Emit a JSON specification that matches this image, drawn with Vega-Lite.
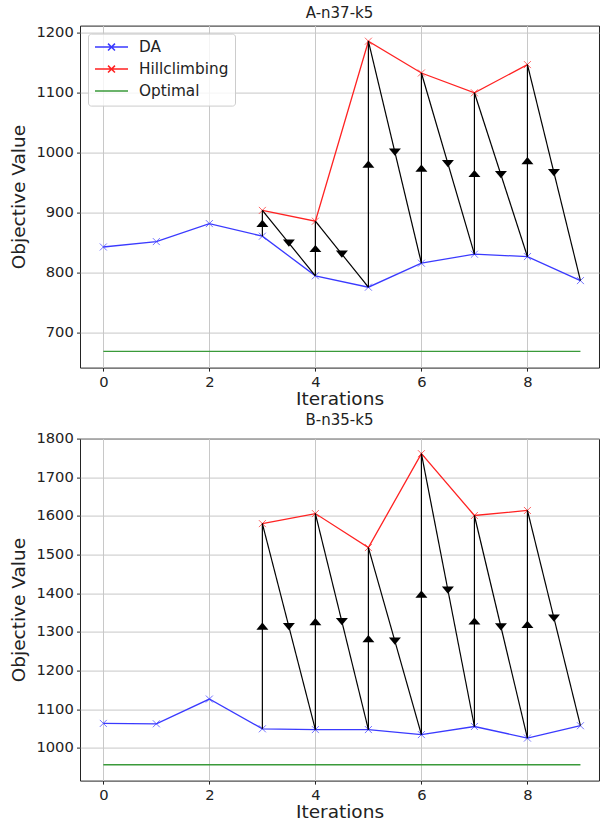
{
  "$schema": "https://vega.github.io/schema/vega-lite/v6.json",
  "background": "white",
  "padding": {"left": 9, "top": 5.6, "right": 0, "bottom": 3},
  "spacing": 71,
  "bounds": "flush",
  "datasets": {
    "s1": [
      {"series": "DA", "iter": 0, "value": 842},
      {"series": "DA", "iter": 1, "value": 851},
      {"series": "DA", "iter": 2, "value": 881},
      {"series": "DA", "iter": 3, "value": 860},
      {"series": "DA", "iter": 4, "value": 794},
      {"series": "DA", "iter": 5, "value": 775},
      {"series": "DA", "iter": 6, "value": 815},
      {"series": "DA", "iter": 7, "value": 830},
      {"series": "DA", "iter": 8, "value": 826},
      {"series": "DA", "iter": 9, "value": 786},
      {"series": "Hillclimbing", "iter": 3, "value": 903},
      {"series": "Hillclimbing", "iter": 4, "value": 885},
      {"series": "Hillclimbing", "iter": 5, "value": 1185},
      {"series": "Hillclimbing", "iter": 6, "value": 1132},
      {"series": "Hillclimbing", "iter": 7, "value": 1099},
      {"series": "Hillclimbing", "iter": 8, "value": 1146},
      {"series": "Optimal", "iter": 0, "value": 668},
      {"series": "Optimal", "iter": 9, "value": 668}
    ],
    "a1": [
      {"arrow": "u3", "dir": "up", "iter": 3, "value": 860}, {"arrow": "u3", "dir": "up", "iter": 3, "value": 903},
      {"arrow": "d3", "dir": "down", "iter": 3, "value": 903}, {"arrow": "d3", "dir": "down", "iter": 4, "value": 794},
      {"arrow": "u4", "dir": "up", "iter": 4, "value": 794}, {"arrow": "u4", "dir": "up", "iter": 4, "value": 885},
      {"arrow": "d4", "dir": "down", "iter": 4, "value": 885}, {"arrow": "d4", "dir": "down", "iter": 5, "value": 775},
      {"arrow": "u5", "dir": "up", "iter": 5, "value": 775}, {"arrow": "u5", "dir": "up", "iter": 5, "value": 1185},
      {"arrow": "d5", "dir": "down", "iter": 5, "value": 1185}, {"arrow": "d5", "dir": "down", "iter": 6, "value": 815},
      {"arrow": "u6", "dir": "up", "iter": 6, "value": 815}, {"arrow": "u6", "dir": "up", "iter": 6, "value": 1132},
      {"arrow": "d6", "dir": "down", "iter": 6, "value": 1132}, {"arrow": "d6", "dir": "down", "iter": 7, "value": 830},
      {"arrow": "u7", "dir": "up", "iter": 7, "value": 830}, {"arrow": "u7", "dir": "up", "iter": 7, "value": 1099},
      {"arrow": "d7", "dir": "down", "iter": 7, "value": 1099}, {"arrow": "d7", "dir": "down", "iter": 8, "value": 826},
      {"arrow": "u8", "dir": "up", "iter": 8, "value": 826}, {"arrow": "u8", "dir": "up", "iter": 8, "value": 1146},
      {"arrow": "d8", "dir": "down", "iter": 8, "value": 1146}, {"arrow": "d8", "dir": "down", "iter": 9, "value": 786}
    ],
    "s2": [
      {"series": "DA", "iter": 0, "value": 1063},
      {"series": "DA", "iter": 1, "value": 1062},
      {"series": "DA", "iter": 2, "value": 1126},
      {"series": "DA", "iter": 3, "value": 1049},
      {"series": "DA", "iter": 4, "value": 1047},
      {"series": "DA", "iter": 5, "value": 1047},
      {"series": "DA", "iter": 6, "value": 1034},
      {"series": "DA", "iter": 7, "value": 1055},
      {"series": "DA", "iter": 8, "value": 1025},
      {"series": "DA", "iter": 9, "value": 1057},
      {"series": "Hillclimbing", "iter": 3, "value": 1580},
      {"series": "Hillclimbing", "iter": 4, "value": 1606},
      {"series": "Hillclimbing", "iter": 5, "value": 1518},
      {"series": "Hillclimbing", "iter": 6, "value": 1761},
      {"series": "Hillclimbing", "iter": 7, "value": 1601},
      {"series": "Hillclimbing", "iter": 8, "value": 1614},
      {"series": "Optimal", "iter": 0, "value": 956},
      {"series": "Optimal", "iter": 9, "value": 956}
    ],
    "a2": [
      {"arrow": "u3", "dir": "up", "iter": 3, "value": 1049}, {"arrow": "u3", "dir": "up", "iter": 3, "value": 1580},
      {"arrow": "d3", "dir": "down", "iter": 3, "value": 1580}, {"arrow": "d3", "dir": "down", "iter": 4, "value": 1047},
      {"arrow": "u4", "dir": "up", "iter": 4, "value": 1047}, {"arrow": "u4", "dir": "up", "iter": 4, "value": 1606},
      {"arrow": "d4", "dir": "down", "iter": 4, "value": 1606}, {"arrow": "d4", "dir": "down", "iter": 5, "value": 1047},
      {"arrow": "u5", "dir": "up", "iter": 5, "value": 1047}, {"arrow": "u5", "dir": "up", "iter": 5, "value": 1518},
      {"arrow": "d5", "dir": "down", "iter": 5, "value": 1518}, {"arrow": "d5", "dir": "down", "iter": 6, "value": 1034},
      {"arrow": "u6", "dir": "up", "iter": 6, "value": 1034}, {"arrow": "u6", "dir": "up", "iter": 6, "value": 1761},
      {"arrow": "d6", "dir": "down", "iter": 6, "value": 1761}, {"arrow": "d6", "dir": "down", "iter": 7, "value": 1055},
      {"arrow": "u7", "dir": "up", "iter": 7, "value": 1055}, {"arrow": "u7", "dir": "up", "iter": 7, "value": 1601},
      {"arrow": "d7", "dir": "down", "iter": 7, "value": 1601}, {"arrow": "d7", "dir": "down", "iter": 8, "value": 1025},
      {"arrow": "u8", "dir": "up", "iter": 8, "value": 1025}, {"arrow": "u8", "dir": "up", "iter": 8, "value": 1614},
      {"arrow": "d8", "dir": "down", "iter": 8, "value": 1614}, {"arrow": "d8", "dir": "down", "iter": 9, "value": 1057}
    ]
  },
  "vconcat": [
    {
      "width": 519, "height": 342,
      "title": {"text": "A-n37-k5"},
      "layer": [
        {
          "data": {"name": "s1"},
          "mark": {"type": "line", "strokeWidth": 1.3},
          "encoding": {
            "x": {"field": "iter", "type": "quantitative", "title": "Iterations", "scale": {"domain": [-0.44, 9.35], "nice": false, "zero": false}, "axis": {"values": [0, 2, 4, 6, 8], "format": "d"}},
            "y": {"field": "value", "type": "quantitative", "title": "Objective Value", "scale": {"domain": [641, 1211], "nice": false, "zero": false}, "axis": {"values": [700, 800, 900, 1000, 1100, 1200], "format": "d"}},
            "color": {"field": "series", "type": "nominal", "scale": {"domain": ["DA", "Hillclimbing", "Optimal"], "range": ["#3a3aff", "#ff2222", "#3a9a3a"]},
              "legend": {"title": null, "orient": "top-left", "offset": 8, "padding": 6, "fillColor": "rgba(255,255,255,0.8)", "strokeColor": "#cccccc", "cornerRadius": 3, "symbolSize": 1089, "symbolStrokeWidth": 1.5, "labelFontSize": 15.3, "labelOffset": 10, "rowPadding": 6, "clipHeight": 15, "labelColor": "#222222", "labelFont": "DejaVu Sans",
                "encode": {"symbols": {"update": {"shape": {"signal": "datum.value === 'Optimal' ? 'stroke' : 'M-1,0L1,0M-0.21,-0.21L0.21,0.21M-0.21,0.21L0.21,-0.21'"}, "opacity": {"value": 1}}}}}}
          }
        },
        {
          "data": {"name": "s1"},
          "transform": [{"filter": "datum.series !== 'Optimal'"}],
          "mark": {"type": "point", "shape": "M-1,-1L1,1M-1,1L1,-1", "size": 49, "filled": false, "strokeWidth": 1, "opacity": 0.7},
          "encoding": {
            "x": {"field": "iter", "type": "quantitative", "title": "Iterations"},
            "y": {"field": "value", "type": "quantitative", "title": "Objective Value"},
            "color": {"field": "series", "type": "nominal"}
          }
        },
        {
          "data": {"name": "a1"},
          "mark": {"type": "line", "color": "black", "strokeWidth": 1.2},
          "encoding": {
            "x": {"field": "iter", "type": "quantitative", "title": "Iterations"},
            "y": {"field": "value", "type": "quantitative", "title": "Objective Value"},
            "detail": {"field": "arrow", "type": "nominal"}
          }
        },
        {
          "data": {"name": "a1"},
          "mark": {"type": "point", "filled": true, "color": "black", "size": 144, "opacity": 1},
          "encoding": {
            "x": {"aggregate": "mean", "field": "iter", "type": "quantitative", "title": "Iterations"},
            "y": {"aggregate": "mean", "field": "value", "type": "quantitative", "title": "Objective Value"},
            "detail": {"field": "arrow", "type": "nominal"},
            "shape": {"field": "dir", "type": "nominal", "scale": {"domain": ["up", "down"], "range": ["M-1,0.6L1,0.6L0,-0.6Z", "M-1,-0.6L1,-0.6L0,0.6Z"]}, "legend": null}
          }
        }
      ]
    },
    {
      "width": 519, "height": 342,
      "title": {"text": "B-n35-k5"},
      "layer": [
        {
          "data": {"name": "s2"},
          "mark": {"type": "line", "strokeWidth": 1.3},
          "encoding": {
            "x": {"field": "iter", "type": "quantitative", "title": "Iterations", "scale": {"domain": [-0.44, 9.35], "nice": false, "zero": false}, "axis": {"values": [0, 2, 4, 6, 8], "format": "d"}},
            "y": {"field": "value", "type": "quantitative", "title": "Objective Value", "scale": {"domain": [915, 1800], "nice": false, "zero": false}, "axis": {"values": [1000, 1100, 1200, 1300, 1400, 1500, 1600, 1700, 1800], "format": "d"}},
            "color": {"field": "series", "type": "nominal", "scale": {"domain": ["DA", "Hillclimbing", "Optimal"], "range": ["#3a3aff", "#ff2222", "#3a9a3a"]},
              "legend": {"title": null, "orient": "top-left", "offset": 8, "padding": 6, "fillColor": "rgba(255,255,255,0.8)", "strokeColor": "#cccccc", "cornerRadius": 3, "symbolSize": 1089, "symbolStrokeWidth": 1.5, "labelFontSize": 15.3, "labelOffset": 10, "rowPadding": 6, "clipHeight": 15, "labelColor": "#222222", "labelFont": "DejaVu Sans",
                "encode": {"symbols": {"update": {"shape": {"signal": "datum.value === 'Optimal' ? 'stroke' : 'M-1,0L1,0M-0.21,-0.21L0.21,0.21M-0.21,0.21L0.21,-0.21'"}, "opacity": {"value": 1}}}}}}
          }
        },
        {
          "data": {"name": "s2"},
          "transform": [{"filter": "datum.series !== 'Optimal'"}],
          "mark": {"type": "point", "shape": "M-1,-1L1,1M-1,1L1,-1", "size": 49, "filled": false, "strokeWidth": 1, "opacity": 0.7},
          "encoding": {
            "x": {"field": "iter", "type": "quantitative", "title": "Iterations"},
            "y": {"field": "value", "type": "quantitative", "title": "Objective Value"},
            "color": {"field": "series", "type": "nominal"}
          }
        },
        {
          "data": {"name": "a2"},
          "mark": {"type": "line", "color": "black", "strokeWidth": 1.2},
          "encoding": {
            "x": {"field": "iter", "type": "quantitative", "title": "Iterations"},
            "y": {"field": "value", "type": "quantitative", "title": "Objective Value"},
            "detail": {"field": "arrow", "type": "nominal"}
          }
        },
        {
          "data": {"name": "a2"},
          "mark": {"type": "point", "filled": true, "color": "black", "size": 144, "opacity": 1},
          "encoding": {
            "x": {"aggregate": "mean", "field": "iter", "type": "quantitative", "title": "Iterations"},
            "y": {"aggregate": "mean", "field": "value", "type": "quantitative", "title": "Objective Value"},
            "detail": {"field": "arrow", "type": "nominal"},
            "shape": {"field": "dir", "type": "nominal", "scale": {"domain": ["up", "down"], "range": ["M-1,0.6L1,0.6L0,-0.6Z", "M-1,-0.6L1,-0.6L0,0.6Z"]}, "legend": null}
          }
        }
      ]
    }
  ],
  "config": {
    "font": "DejaVu Sans",
    "view": {"stroke": "#222222", "strokeWidth": 1},
    "title": {"fontSize": 15, "font": "DejaVu Sans", "fontWeight": "normal", "color": "#222222", "anchor": "middle", "offset": 3, "baseline": "alphabetic"},
    "axis": {
      "grid": true, "gridColor": "#c8c8c8", "gridWidth": 1, "domain": false,
      "tickColor": "#222222", "tickSize": 3.5, "tickWidth": 1,
      "labelFont": "DejaVu Sans", "labelFontSize": 14.7, "labelColor": "#222222", "labelPadding": 3.2,
      "labelOverlap": false, "labelFlush": false,
      "titleFont": "DejaVu Sans", "titleFontSize": 18.5, "titleFontWeight": "normal", "titleColor": "#222222"
    },
    "axisX": {"titlePadding": 0.4},
    "axisY": {"titlePadding": 7}
  }
}
